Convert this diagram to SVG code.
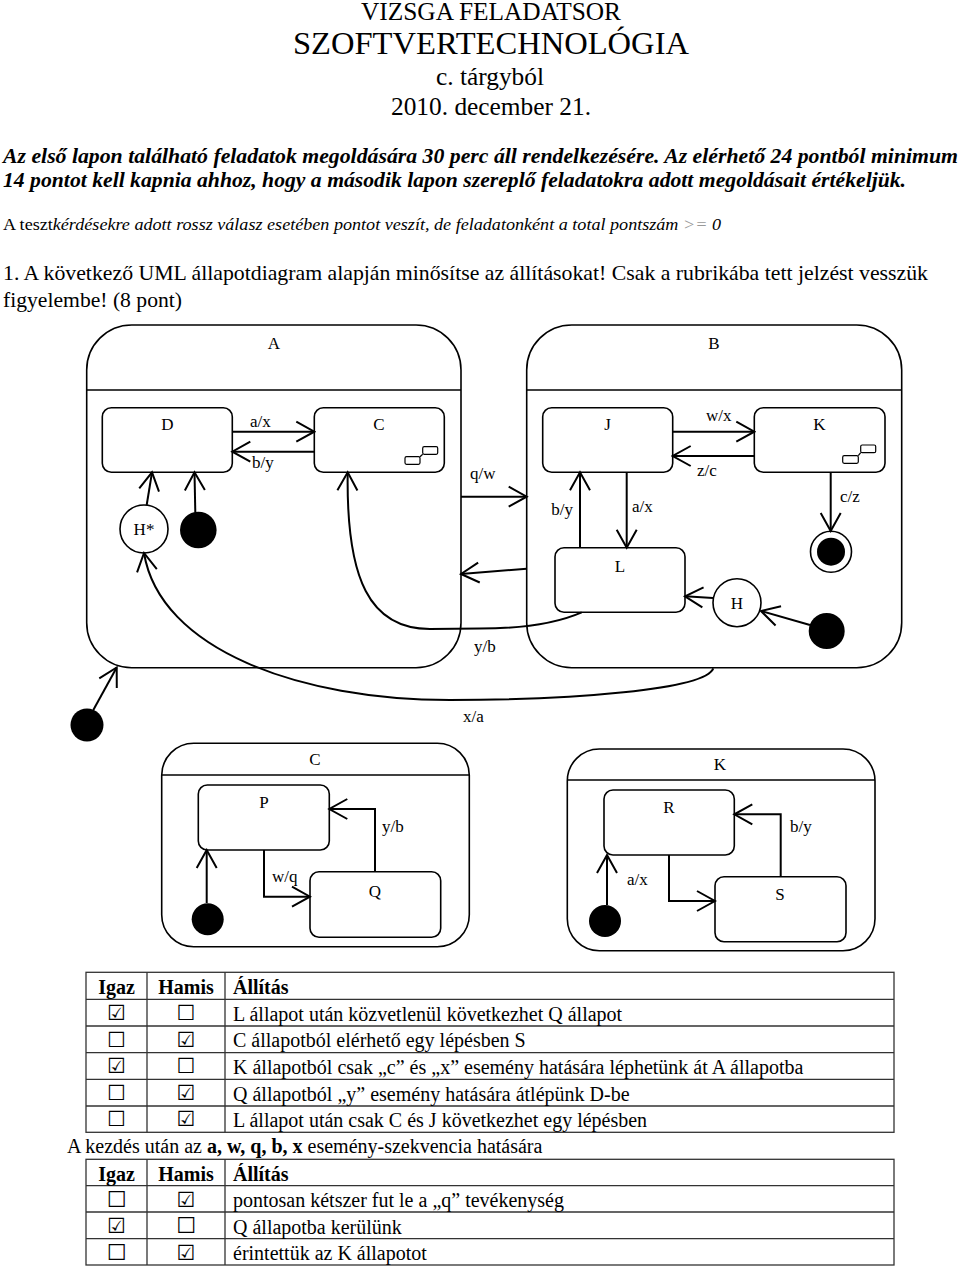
<svg xmlns="http://www.w3.org/2000/svg" width="960" height="1266" viewBox="0 0 960 1266">
<style>
.t{font-family:"Liberation Serif","Times New Roman",serif;fill:#000}
.s17{font-size:17px}
.s20{font-size:20px}
.mid{text-anchor:middle}
.end{text-anchor:end}
.comp{fill:none;stroke:#000;stroke-width:1.6}
.st{fill:#fff;stroke:#000;stroke-width:1.6}
.dot{fill:#000}
.ic{fill:#fff;stroke:#000;stroke-width:1.2}
.ln{fill:none;stroke:#000;stroke-width:2;marker-end:url(#arr)}
.grid{fill:none;stroke:#333;stroke-width:1.3}
.cb{font-family:"DejaVu Sans",sans-serif;font-size:21px;text-anchor:middle;fill:#000}
.cbb{font-family:"DejaVu Sans",sans-serif;font-size:22px;font-weight:bold;text-anchor:middle;fill:#000}
</style>
<defs>
<marker id="arr" viewBox="-21 -12 23 24" markerWidth="23" markerHeight="24" refX="0" refY="0" orient="auto" markerUnits="userSpaceOnUse">
<path d="M-18,-10 L0,0 L-18,10" fill="none" stroke="#000" stroke-width="2"/>
</marker>
</defs>
<rect width="960" height="1266" fill="#fff"/>

<g id="header">
<text class="t mid" x="491" y="20" font-size="25" textLength="260" lengthAdjust="spacingAndGlyphs">VIZSGA FELADATSOR</text>
<text class="t mid" x="491" y="54" font-size="31" textLength="396" lengthAdjust="spacingAndGlyphs">SZOFTVERTECHNOLÓGIA</text>
<text class="t mid" x="490" y="85" font-size="25" textLength="108" lengthAdjust="spacingAndGlyphs">c. tárgyból</text>
<text class="t mid" x="491" y="115" font-size="25" textLength="200" lengthAdjust="spacingAndGlyphs">2010. december 21.</text>
<text class="t" x="3" y="163" font-size="20" font-weight="bold" font-style="italic" textLength="955" lengthAdjust="spacingAndGlyphs">Az első lapon található feladatok megoldására 30 perc áll rendelkezésére. Az elérhető 24 pontból minimum</text>
<text class="t" x="3" y="187" font-size="20" font-weight="bold" font-style="italic" textLength="903" lengthAdjust="spacingAndGlyphs">14 pontot kell kapnia ahhoz, hogy a második lapon szereplő feladatokra adott megoldásait értékeljük.</text>
<text class="t" x="3" y="230" font-size="16" textLength="718" lengthAdjust="spacingAndGlyphs">A teszt<tspan font-style="italic">kérdésekre adott rossz válasz esetében pontot veszít, de feladatonként a total pontszám </tspan><tspan font-style="italic" fill="#999">&gt;=</tspan><tspan font-style="italic"> 0</tspan></text>
<text class="t" x="3" y="280" font-size="21" textLength="925" lengthAdjust="spacingAndGlyphs">1. A következő UML állapotdiagram alapján minősítse az állításokat! Csak a rubrikába tett jelzést vesszük</text>
<text class="t" x="3" y="307" font-size="21" textLength="179" lengthAdjust="spacingAndGlyphs">figyelembe! (8 pont)</text>
</g>

<g id="A">
<rect class="comp" x="86.7" y="325" width="374.3" height="342.7" rx="45"/>
<line x1="86.7" y1="390" x2="461" y2="390" stroke="#000" stroke-width="1.6"/>
<text class="t s17 mid" x="274" y="349">A</text>
</g>
<g id="B">
<rect class="comp" x="526.7" y="325" width="375" height="342.7" rx="45"/>
<line x1="526.7" y1="390" x2="901.7" y2="390" stroke="#000" stroke-width="1.6"/>
<text class="t s17 mid" x="714" y="349">B</text>
</g>
<g id="D">
<rect class="st" x="102.3" y="407.7" width="130" height="64.6" rx="9"/>
<text class="t s17 mid" x="167.5" y="430">D</text>
</g>
<g id="C">
<rect class="st" x="314.3" y="407.7" width="130" height="64.6" rx="9"/>
<text class="t s17 mid" x="379" y="430">C</text>
<rect class="ic" x="405" y="456.7" width="15" height="7.6" rx="1.5"/>
<rect class="ic" x="422.7" y="446.7" width="15" height="7.6" rx="1.5"/>
<line x1="420" y1="456.7" x2="422.7" y2="454.3" stroke="#000" stroke-width="1.2"/>
</g>
<g id="J">
<rect class="st" x="542.7" y="407.7" width="130" height="64.6" rx="9"/>
<text class="t s17 mid" x="607.5" y="430">J</text>
</g>
<g id="K">
<rect class="st" x="754.3" y="407.7" width="130.7" height="64.6" rx="9"/>
<text class="t s17 mid" x="819.5" y="430">K</text>
<rect class="ic" x="842.7" y="455.7" width="15.6" height="7.6" rx="1.5"/>
<rect class="ic" x="860.7" y="445" width="15" height="7.7" rx="1.5"/>
<line x1="858.3" y1="455.7" x2="860.7" y2="452.7" stroke="#000" stroke-width="1.2"/>
</g>
<g id="L">
<rect class="st" x="555" y="547.7" width="130" height="64.6" rx="9"/>
<text class="t s17 mid" x="620" y="571.5">L</text>
</g>
<g id="Hstar">
<circle class="st" cx="144" cy="529" r="24"/>
<text class="t s17 mid" x="144" y="535">H*</text>
</g>
<g id="initA">
<circle class="dot" cx="198.3" cy="530" r="18.3"/>
</g>
<g id="finalB">
<circle class="st" cx="831" cy="551.7" r="20.5"/>
<circle class="dot" cx="831" cy="551.7" r="14"/>
</g>
<g id="H">
<circle class="st" cx="737" cy="602.7" r="24"/>
<text class="t s17 mid" x="737" y="609">H</text>
</g>
<g id="initB">
<circle class="dot" cx="826.7" cy="631" r="18"/>
</g>
<g id="initTop">
<circle class="dot" cx="87" cy="725" r="16.5"/>
</g>

<g id="C2">
<rect class="comp" x="161.7" y="743.3" width="307.6" height="203.4" rx="32"/>
<line x1="161.7" y1="775" x2="469.3" y2="775" stroke="#000" stroke-width="1.6"/>
<text class="t s17 mid" x="315" y="765">C</text>
</g>
<g id="P">
<rect class="st" x="198.3" y="785" width="131" height="65" rx="9"/>
<text class="t s17 mid" x="264" y="808">P</text>
</g>
<g id="Q">
<rect class="st" x="310" y="871.7" width="130.7" height="65.6" rx="9"/>
<text class="t s17 mid" x="375" y="897">Q</text>
</g>
<g id="initC2">
<circle class="dot" cx="207.7" cy="919.3" r="16"/>
</g>
<g id="K2">
<rect class="comp" x="567.3" y="749" width="307.7" height="201.7" rx="32"/>
<line x1="567.3" y1="780" x2="875" y2="780" stroke="#000" stroke-width="1.6"/>
<text class="t s17 mid" x="720" y="770">K</text>
</g>
<g id="R">
<rect class="st" x="604" y="790" width="130.3" height="65" rx="9"/>
<text class="t s17 mid" x="669" y="813">R</text>
</g>
<g id="S">
<rect class="st" x="715" y="876.7" width="131" height="65" rx="9"/>
<text class="t s17 mid" x="780" y="900">S</text>
</g>
<g id="initK2">
<circle class="dot" cx="605" cy="921" r="16"/>
</g>

<g id="connectors">
<path class="ln" d="M232.3,431.7 H314.3"/>
<path class="ln" d="M314.3,451.7 H232.3"/>
<path class="ln" d="M146.7,505 L152,472.3"/>
<path class="ln" d="M195.3,512 L194.5,472.3"/>
<path class="ln" d="M461,496.7 H526.7"/>
<path class="ln" d="M526.7,568.7 L461,574"/>
<path class="ln" d="M672.7,431.7 H754.3"/>
<path class="ln" d="M754.3,456 H672.7"/>
<path class="ln" d="M626.7,472.3 V547.7"/>
<path class="ln" d="M580,547.7 V472.3"/>
<path class="ln" d="M830.7,472.3 V531"/>
<path class="ln" d="M713,598 L685,596.3"/>
<path class="ln" d="M810,625 L761,611"/>
<path class="ln" d="M581.7,612.3 C555,624 520,628.5 480,628.5 L430,629 C370,629 346,580 347.7,472.3"/>
<path class="ln" d="M713.3,668.3 C705,690 570,700 450,700 C300,700 160,650 144,553"/>
<path class="ln" d="M93.3,710 L116.7,667.5"/>
<path class="ln" d="M206.7,903 V850"/>
<path class="ln" d="M264,850 V896.7 H310"/>
<path class="ln" d="M375,871.7 V809 H329.3"/>
<path class="ln" d="M607,905 V855"/>
<path class="ln" d="M669,855 V901 H715"/>
<path class="ln" d="M780.7,876.7 V814.3 H734.3"/>
<g class="t s17">
<text x="250" y="427">a/x</text>
<text x="252" y="468">b/y</text>
<text x="470" y="479">q/w</text>
<text x="706" y="421">w/x</text>
<text x="697" y="476">z/c</text>
<text x="632" y="512">a/x</text>
<text x="573" y="515" text-anchor="end">b/y</text>
<text x="840" y="502">c/z</text>
<text x="474" y="652">y/b</text>
<text x="463" y="722">x/a</text>
<text x="272" y="882">w/q</text>
<text x="382" y="832">y/b</text>
<text x="627" y="885">a/x</text>
<text x="790" y="832">b/y</text>
</g>
</g>

<g id="table1">
<rect class="grid" x="86" y="972.3" width="808" height="160"/>
<path class="grid" d="M86,999.3 H894 M86,1026 H894 M86,1052.7 H894 M86,1079.3 H894 M86,1106 H894 M147,972.3 V1132.3 M225,972.3 V1132.3"/>
<text class="t s20 mid" x="116.5" y="994" font-weight="bold">Igaz</text>
<text class="t s20 mid" x="186" y="994" font-weight="bold">Hamis</text>
<text class="t s20" x="233" y="994" font-weight="bold">Állítás</text>
<text class="cb" x="116.5" y="1020">☑</text><text class="cb" x="186" y="1020">☐</text>
<text class="t s20" x="233" y="1020.5">L állapot után közvetlenül következhet Q állapot</text>
<text class="cb" x="116.5" y="1047">☐</text><text class="cb" x="186" y="1047">☑</text>
<text class="t s20" x="233" y="1047">C állapotból elérhető egy lépésben S</text>
<text class="cb" x="116.5" y="1073">☑</text><text class="cb" x="186" y="1073">☐</text>
<text class="t s20" x="233" y="1074">K állapotból csak „c” és „x” esemény hatására léphetünk át A állapotba</text>
<text class="cb" x="116.5" y="1100">☐</text><text class="cb" x="186" y="1100">☑</text>
<text class="t s20" x="233" y="1100.5">Q állapotból „y” esemény hatására átlépünk D-be</text>
<text class="cb" x="116.5" y="1126">☐</text><text class="cb" x="186" y="1126">☑</text>
<text class="t s20" x="233" y="1127">L állapot után csak C és J következhet egy lépésben</text>
</g>

<text class="t s20" x="67" y="1153">A kezdés után az <tspan font-weight="bold">a, w, q, b, x</tspan> esemény-szekvencia hatására</text>

<g id="table2">
<rect class="grid" x="86" y="1159.3" width="808" height="105.7"/>
<path class="grid" d="M86,1185.7 H894 M86,1212 H894 M86,1238.7 H894 M147,1159.3 V1265 M225,1159.3 V1265"/>
<text class="t s20 mid" x="116.5" y="1181" font-weight="bold">Igaz</text>
<text class="t s20 mid" x="186" y="1181" font-weight="bold">Hamis</text>
<text class="t s20" x="233" y="1181" font-weight="bold">Állítás</text>
<text class="cbb" x="116.5" y="1207">☐</text><text class="cb" x="186" y="1207">☑</text>
<text class="t s20" x="233" y="1207">pontosan kétszer fut le a „q” tevékenység</text>
<text class="cb" x="116.5" y="1233">☑</text><text class="cbb" x="186" y="1233">☐</text>
<text class="t s20" x="233" y="1234">Q állapotba kerülünk</text>
<text class="cbb" x="116.5" y="1260">☐</text><text class="cb" x="186" y="1260">☑</text>
<text class="t s20" x="233" y="1260">érintettük az K állapotot</text>
</g>
</svg>
